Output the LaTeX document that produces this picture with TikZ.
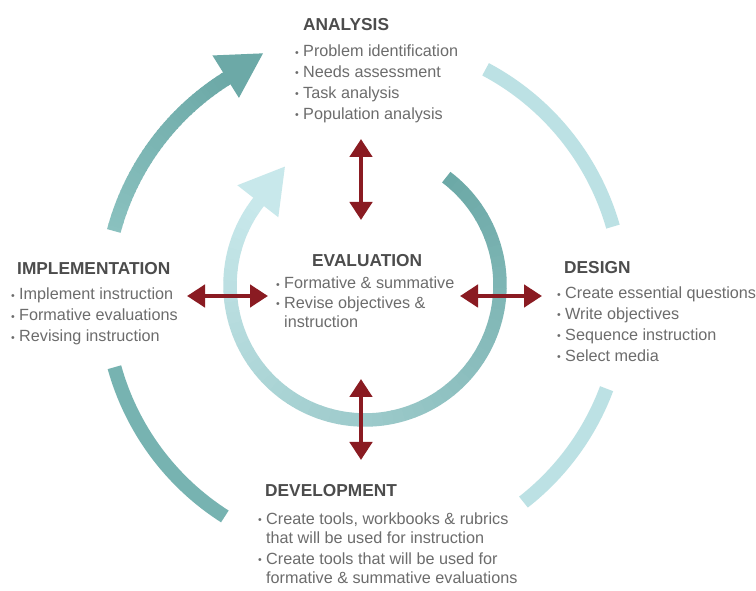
\documentclass[tikz,border=0pt]{standalone}
\usepackage{fontspec}
\setmainfont{Liberation Sans}
\usepackage{graphicx}
\usetikzlibrary{arrows.meta,calc}

\definecolor{tealdark}{HTML}{6CA9A7}
\definecolor{tealsoft}{HTML}{8AC1BF}
\definecolor{tealmid}{HTML}{77B3B1}
\definecolor{tealpale}{HTML}{BCE1E4}
\definecolor{icepale}{HTML}{C8E8EB}
\definecolor{crimson}{HTML}{8A1B22}
\definecolor{headgray}{HTML}{4C4C4C}
\definecolor{bodygray}{HTML}{6C6C6C}

% small raised bullet and bullet-list helpers
\newcommand\smalldot{\makebox[8pt][l]{\raisebox{0.06em}{\scalebox{0.65}{\textbullet}}}}
\newcommand\itm[1]{\smalldot & #1\\}
\newcommand\cont[1]{ & #1\\}

\begin{document}
\begin{tikzpicture}[x=1pt,y=1pt,
  heading/.style={anchor=base west, inner sep=0pt, text=headgray,
    font=\fontsize{17.3}{20}\selectfont\bfseries},
  bullets/.style={anchor=base west, inner sep=0pt, text=bodygray,
    font=\fontsize{16.2}{#1}\selectfont},
  bullets/.default=20.7,
  ring/.style={line width=14pt},
  inring/.style={line width=13.5pt},
  dbl/.style={line width=4.5pt, draw=crimson,
    {Triangle[width=22pt,length=18pt]}-{Triangle[width=22pt,length=18pt]}}
]
\useasboundingbox (0,0) rectangle (756,590);
\fill[white] (0,0) rectangle (756,590);

\coordinate (oc) at (364,292);  % centre of the outer cycle
\coordinate (ic) at (365,305);  % centre of the inner cycle

% ---- outer cycle ----
% implementation -> analysis, shaded toward the head
\foreach \i in {0,...,39} {
  \pgfmathsetmacro\a{165-\i*43.5/40}
  \pgfmathsetmacro\b{\a-43.5/40-0.3}
  \pgfmathsetmacro\m{100*\i/39}
  \draw[ring, color=tealdark!\m!tealsoft] ($(oc)+(\a:259)$)
    arc[start angle=\a, end angle=\b, radius=259];
}
\fill[tealdark] ($(oc)+(122:236)$) -- ($(oc)+(122:286)$)
  -- ($(oc)+(122:261)+(32:44)$) -- cycle;
% analysis -> design
\draw[ring, tealpale] ($(oc)+(62:259)$) arc[start angle=62, end angle=16, radius=259];
% design -> development
\draw[ring, tealpale] ($(oc)+(-20.5:259)$) arc[start angle=-20.5, end angle=-52, radius=259];
% development -> implementation
\draw[ring, tealmid] ($(oc)+(195.5:259)$) arc[start angle=195.5, end angle=237.5, radius=259];

% ---- inner cycle (evaluation) ----
\foreach \i in {0,...,59} {
  \pgfmathsetmacro\a{53-\i*271/60}
  \pgfmathsetmacro\b{\a-271/60-0.3}
  \pgfmathsetmacro\m{100*\i/59}
  \draw[inring, color=icepale!\m!tealdark] ($(ic)+(\a:135)$)
    arc[start angle=\a, end angle=\b, radius=135];
}
\fill[icepale] ($(ic)+(142:110)$) -- ($(ic)+(142:162)$)
  -- ($(ic)+(142:136)+(52:44)$) -- cycle;

% ---- phase texts ----
\node[heading] (analysis) at (303,559) {ANALYSIS};
\node[bullets] (analysisList) at (295,533) {\begin{tabular}[t]{@{}l@{}l@{}}
  \itm{Problem identification}
  \itm{Needs assessment}
  \itm{Task analysis}
  \itm{Population analysis}
\end{tabular}};

\node[heading] (design) at (564,316) {DESIGN};
\node[bullets] (designList) at (557,291) {\begin{tabular}[t]{@{}l@{}l@{}}
  \itm{Create essential questions}
  \itm{Write objectives}
  \itm{Sequence instruction}
  \itm{Select media}
\end{tabular}};

\node[heading] (development) at (265,93) {DEVELOPMENT};
\node[bullets=19.2] (developmentList) at (258,66) {\begin{tabular}[t]{@{}l@{}l@{}}
  \itm{Create tools, workbooks \& rubrics}
  \cont{that will be used for instruction}[2pt]
  \itm{Create tools that will be used for}
  \cont{formative \& summative evaluations}
\end{tabular}};

\node[heading] (implementation) at (17,315) {IMPLEMENTATION};
\node[bullets=21] (implementationList) at (11,290) {\begin{tabular}[t]{@{}l@{}l@{}}
  \itm{Implement instruction}
  \itm{Formative evaluations}
  \itm{Revising instruction}
\end{tabular}};

\node[heading] (evaluation) at (312,323) {EVALUATION};
\node[bullets=19.5] (evaluationList) at (276,301) {\begin{tabular}[t]{@{}l@{}l@{}}
  \itm{Formative \& summative}
  \itm{Revise objectives \&}
  \cont{instruction}
\end{tabular}};

% ---- evaluation links ----
\coordinate (linkTopA) at (361,451);
\coordinate (linkTopB) at (361,370);
\coordinate (linkBotA) at (361,211);
\coordinate (linkBotB) at (361,130);
\coordinate (linkLeftA) at (187,294);
\coordinate (linkLeftB) at (268,294);
\coordinate (linkRightA) at (460,294);
\coordinate (linkRightB) at (542,294);
\draw[dbl] (linkTopA) -- (linkTopB);
\draw[dbl] (linkBotA) -- (linkBotB);
\draw[dbl] (linkLeftA) -- (linkLeftB);
\draw[dbl] (linkRightA) -- (linkRightB);
\end{tikzpicture}
\end{document}
